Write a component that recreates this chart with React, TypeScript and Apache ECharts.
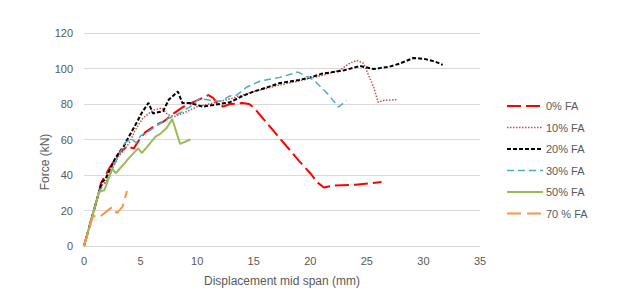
import React, { useEffect, useRef } from "react";
import * as echarts from "echarts";

const xTicks = [0, 5, 10, 15, 20, 25, 30, 35];
const yTicks = [0, 20, 40, 60, 80, 100, 120];

const fa0X = [0, 1.35, 1.5, 2.3, 3.2, 3.8, 4.4, 4.9, 5.4, 6.3, 7.0, 8.0, 8.8, 10.0, 11.0, 11.4, 11.7, 12.3, 12.9, 14.0, 14.6, 15.0, 16.0, 17.0, 18.0, 19.0, 20.0, 20.6, 21.2, 22.0, 24.0, 26.3];
const fa0Y = [0, 31, 35.5, 44.5, 53, 56, 55, 60, 64, 68, 70, 75, 78.5, 82, 85, 83.5, 81, 78.5, 80, 80.5, 80, 78, 70.5, 63, 55.5, 48, 41, 36, 33, 34, 34.5, 36];

const fa10X = [0, 1.35, 1.6, 2.0, 3.0, 4.0, 4.5, 5.2, 6.1, 6.9, 7.4, 8.0, 9.0, 10.0, 11.4, 13.0, 15.0, 17.3, 19.0, 21.0, 22.6, 23.5, 24.1, 24.7, 25.6, 26.0, 26.5, 27.7];
const fa10Y = [0, 31, 34, 37, 50, 58, 65, 72, 76.5, 77.7, 74, 73, 75.5, 78.5, 80.5, 83, 87, 90.7, 93, 96, 99, 103, 104.5, 103, 89.5, 81, 82, 82.5];

const fa20X = [0, 1.35, 1.6, 1.9, 2.4, 2.8, 3.5, 4.0, 4.7, 5.1, 5.7, 6.1, 7.0, 7.5, 8.3, 8.7, 9.4, 10.5, 11.4, 12.9, 14.0, 15.0, 16.0, 17.3, 19.0, 20.0, 21.0, 22.0, 23.0, 24.4, 25.6, 27.0, 28.0, 29.1, 30.0, 31.0, 31.7];
const fa20Y = [0, 31, 36, 37.7, 44.5, 50, 56, 62, 70, 75, 80.6, 74.7, 76, 82.5, 87, 80.5, 80.5, 78.5, 79.4, 81, 84.5, 87, 89, 91.8, 93.5, 95, 97, 98, 99, 101.4, 99.7, 101, 103, 105.9, 105.5, 104, 102];

const fa30X = [0, 1.35, 1.6, 2.0, 2.6, 3.0, 3.6, 4.2, 4.6, 5.0, 5.8, 6.7, 7.5, 8.5, 9.4, 10.2, 11.4, 12.0, 12.9, 13.5, 14.4, 15.6, 17.3, 18.9, 20.3, 21.5, 22.5, 23.2];
const fa30Y = [0, 31, 33, 36, 45, 50, 58, 60.5, 58, 62, 65, 69, 72, 75, 78.5, 83, 82, 81.5, 84.5, 85, 89.6, 93, 95, 98, 93.5, 86, 78.3, 82];

const fa50X = [0, 1.33, 1.8, 2.5, 2.8, 3.5, 4.1, 4.8, 5.1, 5.6, 6.3, 6.8, 7.3, 7.8, 8.5, 9.4];
const fa50Y = [0, 30.4, 31.5, 43.5, 41, 46, 50.5, 55, 52.4, 56, 61.5, 63.5, 66.5, 71.5, 57.5, 60];

const fa70X = [0, 0.8, 1.3, 2.5, 2.9, 3.4, 3.8];
const fa70Y = [0, 17, 16, 22, 18.5, 22, 31];

const seriesDefs = [
  { name: "0% FA", xs: fa0X, ys: fa0Y, color: "#ff0000", width: 2, dash: [14, 5] },
  { name: "10% FA", xs: fa10X, ys: fa10Y, color: "#c0504d", width: 1.5, dash: [1.5, 1.5] },
  { name: "20% FA", xs: fa20X, ys: fa20Y, color: "#000000", width: 2, dash: [4, 2] },
  { name: "30% FA", xs: fa30X, ys: fa30Y, color: "#4bacc6", width: 1.5, dash: [7, 4] },
  { name: "50% FA", xs: fa50X, ys: fa50Y, color: "#9bbb59", width: 2, dash: "solid" },
  { name: "70 % FA", xs: fa70X, ys: fa70Y, color: "#f79646", width: 2, dash: [14, 6] },
];

const FONT = "Liberation Sans";
const GREY = "#595959";

export default function App() {
  const ref = useRef<HTMLDivElement>(null);
  useEffect(() => {
    if (!ref.current) return;
    const chart = echarts.init(ref.current, undefined, { renderer: "svg" });

    const legendX = 507;
    const legendTop = 106;
    const legendStep = 21.5;
    const legendGraphics = seriesDefs.map((s, i) => ({
      type: "group",
      x: legendX,
      y: legendTop + i * legendStep,
      children: [
        {
          type: "line",
          shape: { x1: 0, y1: 0, x2: 36, y2: 0 },
          style: {
            stroke: s.color,
            lineWidth: s.width,
            lineDash: s.dash === "solid" ? null : s.dash,
          },
        },
        {
          type: "text",
          x: 39,
          y: 0,
          style: {
            text: s.name,
            fill: GREY,
            font: `11px '${FONT}'`,
            align: "left",
            verticalAlign: "middle",
          },
        },
      ],
    }));

    chart.setOption({
      animation: false,
      backgroundColor: "#ffffff",
      grid: { left: 84, right: 137, top: 33, bottom: 48, containLabel: false },
      xAxis: {
        type: "value",
        min: xTicks[0],
        max: xTicks[xTicks.length - 1],
        interval: 5,
        axisLine: { show: true, lineStyle: { color: "#d9d9d9", width: 1 } },
        axisTick: { show: false },
        splitLine: { show: false },
        axisLabel: { color: GREY, fontFamily: FONT, fontSize: 11, margin: 9 },
        name: "Displacement mid span (mm)",
        nameLocation: "middle",
        nameGap: 29,
        nameTextStyle: { color: GREY, fontFamily: FONT, fontSize: 12 },
      },
      yAxis: {
        type: "value",
        min: yTicks[0],
        max: yTicks[yTicks.length - 1],
        interval: 20,
        axisLine: { show: false },
        axisTick: { show: false },
        splitLine: { show: true, lineStyle: { color: "#d9d9d9", width: 1 } },
        axisLabel: { color: GREY, fontFamily: FONT, fontSize: 11, margin: 11 },
      },
      graphic: [
        {
          type: "text",
          x: 45,
          y: 162,
          rotation: Math.PI / 2,
          style: {
            text: "Force (kN)",
            fill: GREY,
            font: `12px '${FONT}'`,
            align: "center",
            verticalAlign: "middle",
          },
        },
        ...legendGraphics,
      ],
      series: seriesDefs.map((s) => ({
        name: s.name,
        type: "line",
        symbol: "none",
        showSymbol: false,
        data: s.xs.map((x, i) => [x, s.ys[i]]),
        lineStyle: { color: s.color, width: s.width, type: s.dash },
        itemStyle: { color: s.color },
      })),
    });
    return () => chart.dispose();
  }, []);
  return (
    <div
      ref={ref}
      style={{ position: "fixed", left: 0, top: 0, width: 617, height: 294, background: "#fff" }}
    />
  );
}
